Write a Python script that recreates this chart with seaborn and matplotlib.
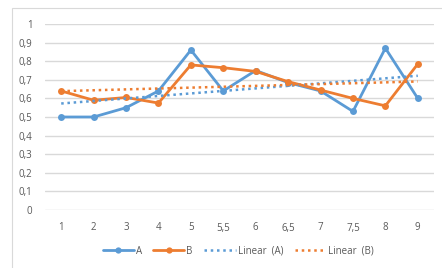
import numpy as np
import pandas as pd
import matplotlib
matplotlib.use("Agg")
import matplotlib.pyplot as plt
from matplotlib.patches import Rectangle
from matplotlib.lines import Line2D
import seaborn as sns

categories = ["1", "2", "3", "4", "5", "5,5", "6", "6,5", "7", "7,5", "8", "9"]
series_a = [0.50, 0.50, 0.55, 0.64, 0.86, 0.64, 0.75, 0.685, 0.64, 0.53, 0.87, 0.60]
series_b = [0.64, 0.59, 0.605, 0.575, 0.78, 0.765, 0.745, 0.69, 0.645, 0.60, 0.56, 0.785]
y_ticks = [0, 0.1, 0.2, 0.3, 0.4, 0.5, 0.6, 0.7, 0.8, 0.9, 1]
y_labels = ["0", "0,1", "0,2", "0,3", "0,4", "0,5", "0,6", "0,7", "0,8", "0,9", "1"]

BLUE = "#5B9BD5"
ORANGE = "#ED7D31"
TXT = "#595959"
GRID = "#D9D9D9"

sns.set_style("white")
plt.rcParams["font.family"] = ["Open Sans", "DejaVu Sans"]

fig = plt.figure(figsize=(4.42, 2.68), dpi=100)
fig.patches.append(Rectangle((12 / 442, -0.1), 1.2, 1 - 8 / 268 + 0.1, transform=fig.transFigure,
                             fill=False, edgecolor=GRID, linewidth=0.8))
ax = fig.add_axes([45 / 442, 1 - 210 / 268, (434 - 45) / 442, (210 - 24) / 268])

idx = np.arange(len(categories))
df = pd.DataFrame({"x": np.concatenate([idx, idx]),
                   "y": series_a + series_b,
                   "s": ["A"] * len(idx) + ["B"] * len(idx)})

sns.lineplot(data=df, x="x", y="y", hue="s", palette={"A": BLUE, "B": ORANGE},
             marker="o", markersize=5, markeredgewidth=0, linewidth=2, ax=ax, legend=False)

for vals, col in [(series_a, BLUE), (series_b, ORANGE)]:
    k, b = np.polyfit(idx + 1, vals, 1)
    ax.plot(idx, k * (idx + 1) + b, linestyle=(0, (1, 1.5)), color=col, linewidth=1.8)

ax.set_xlim(-0.5, len(categories) - 0.5)
ax.set_ylim(0, 1)
ax.set_xticks(idx)
ax.set_xticklabels(categories)
ax.set_yticks(y_ticks)
ax.set_yticklabels(y_labels)
ax.yaxis.grid(True, color=GRID, linewidth=1)
ax.set_axisbelow(True)
for s in ax.spines.values():
    s.set_visible(False)
ax.tick_params(axis="both", length=0, labelsize=7, colors=TXT)
ax.tick_params(axis="y", pad=9)
ax.tick_params(axis="x", pad=9)
ax.set_xlabel("")
ax.set_ylabel("")

handles = [
    Line2D([], [], color=BLUE, linewidth=2, marker="o", markersize=4.5, markeredgewidth=0),
    Line2D([], [], color=ORANGE, linewidth=2, marker="o", markersize=4.5, markeredgewidth=0),
    Line2D([], [], color=BLUE, linewidth=1.8, linestyle=(0, (1, 1.5))),
    Line2D([], [], color=ORANGE, linewidth=1.8, linestyle=(0, (1, 1.5))),
]
fig.legend(handles, ["A", "B", "Linear  (A)", "Linear  (B)"], loc="center",
           bbox_to_anchor=(238 / 442, 1 - 251 / 268), ncol=4, frameon=False,
           fontsize=7, labelcolor=TXT, handlelength=3.2, handletextpad=0.2, columnspacing=1.2)

fig.savefig("out.png", dpi=100)
